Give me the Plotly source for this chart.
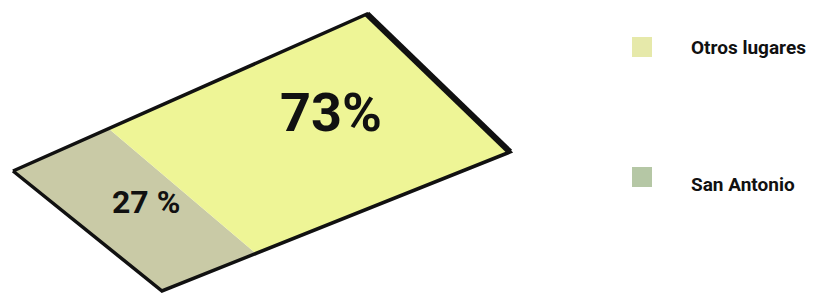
import plotly.graph_objects as go

# ---- data ----
categories = ["San Antonio", "Otros lugares"]
shares = [27, 73]                      # percent
region_colors = ["#c9caa6", "#eef596"]
legend_colors = ["#b5c7a5", "#e6e9aa"]
value_labels = ["27 %", "73%"]

W, H = 816, 293
PAGE_OFFSET = 8   # default body margin of the page
FONT = "Roboto, Liberation Sans, sans-serif"

# sketch-plane corners (screen pixel space)
C_LT = (13, 171)    # s=0, w=0
C_RT = (367, 14)    # s=1, w=0
C_LB = (162, 291)   # s=0, w=1
C_RB = (510, 152)   # s=1, w=1


def plane(s, w):
    tx = (1 - s) * C_LT[0] + s * C_RT[0]
    ty = (1 - s) * C_LT[1] + s * C_RT[1]
    bx = (1 - s) * C_LB[0] + s * C_RB[0]
    by = (1 - s) * C_LB[1] + s * C_RB[1]
    return (1 - w) * tx + w * bx, (1 - w) * ty + w * by


fig = go.Figure()

cum = 0.0
for cat, val, col in zip(categories, shares, region_colors):
    s0 = cum / 100.0
    s1 = (cum + val) / 100.0
    cum += val
    pts = [plane(s0, 0), plane(s1, 0), plane(s1, 1), plane(s0, 1), plane(s0, 0)]
    fig.add_trace(go.Scatter(
        x=[p[0] for p in pts], y=[p[1] for p in pts],
        mode="lines", fill="toself", fillcolor=col,
        line=dict(width=0, color=col), name=cat, showlegend=False,
        hoverinfo="name",
    ))

# outline
outline = [plane(0, 0), plane(1, 0), plane(1, 1), plane(0, 1), plane(0, 0)]
fig.add_trace(go.Scatter(
    x=[p[0] for p in outline], y=[p[1] for p in outline],
    mode="lines", line=dict(color="#111111", width=3.5),
    showlegend=False, hoverinfo="skip",
))
right_edge = [plane(1, 0), plane(1, 1)]
fig.add_trace(go.Scatter(
    x=[p[0] for p in right_edge], y=[p[1] for p in right_edge],
    mode="lines", line=dict(color="#111111", width=6),
    showlegend=False, hoverinfo="skip",
))

# value labels
label_pos = [(146, 202, 32), (331, 112, 54)]
for txt, (lx, ly, fs) in zip(value_labels, label_pos):
    fig.add_annotation(x=lx, y=ly, xref="x", yref="y", text=txt, showarrow=False,
                       font=dict(family=FONT, size=fs, color="#111111", weight="bold"),
                       xanchor="center", yanchor="middle")

# legend (drawn manually)
legend_rows = [("Otros lugares", legend_colors[1], 47, 47), ("San Antonio", legend_colors[0], 177, 184)]
for name, col, cy, ty in legend_rows:
    fig.add_shape(type="rect", xref="x", yref="y", x0=632, x1=652, y0=cy - 10, y1=cy + 10,
                  fillcolor=col, line=dict(width=0))
    fig.add_annotation(x=689, y=ty, xref="x", yref="y", text=name,
                       showarrow=False, xanchor="left", yanchor="middle",
                       font=dict(family=FONT, size=19, color="#111111", weight="bold"))

fig.update_layout(
    width=W, height=H,
    margin=dict(l=0, r=0, t=0, b=0),
    paper_bgcolor="white", plot_bgcolor="white",
    xaxis=dict(range=[PAGE_OFFSET, W + PAGE_OFFSET], visible=False, fixedrange=True),
    yaxis=dict(range=[H + PAGE_OFFSET, PAGE_OFFSET], visible=False, fixedrange=True),
    showlegend=False,
)

fig.write_html("out.html")
